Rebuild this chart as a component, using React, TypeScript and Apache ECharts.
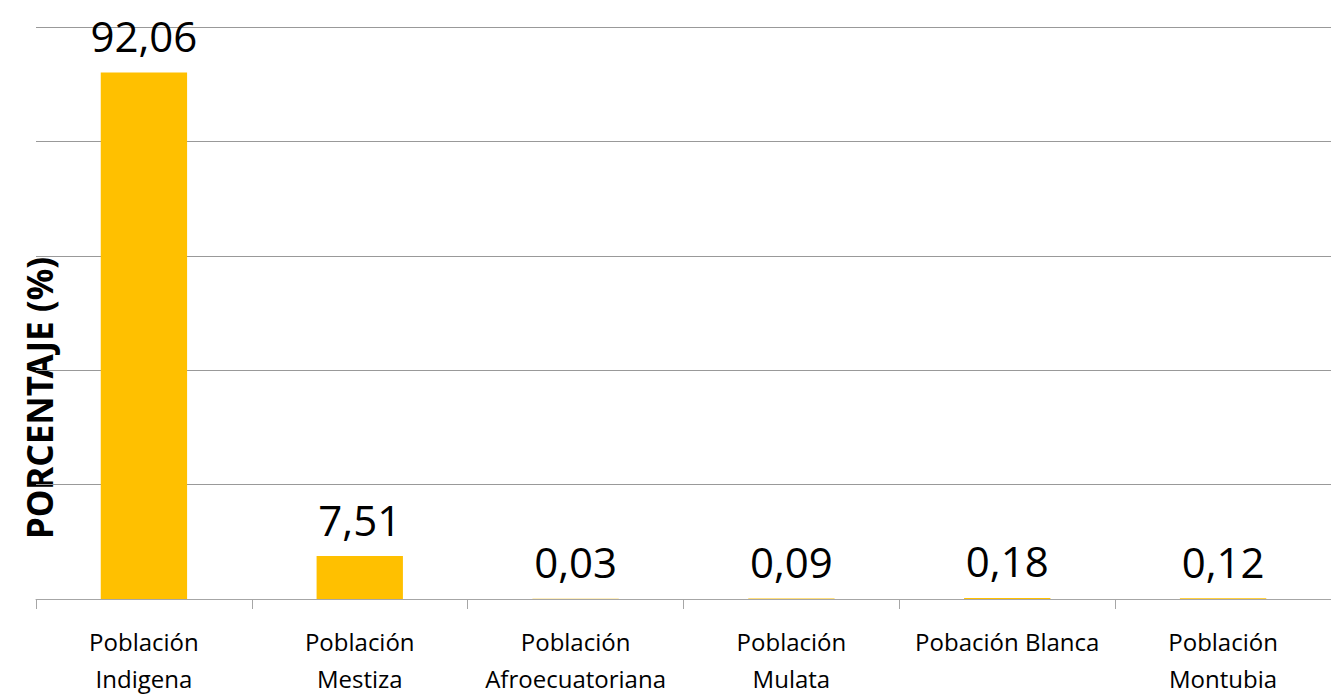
import React, { useEffect, useRef } from "react";
import * as echarts from "echarts";

const categories = [
  "Población\nIndigena",
  "Población\nMestiza",
  "Población\nAfroecuatoriana",
  "Población\nMulata",
  "Pobación Blanca",
  "Población\nMontubia",
];
const values = [92.06, 7.51, 0.03, 0.09, 0.18, 0.12];
const yAxisTitle = "PORCENTAJE (%)";

export default function App() {
  const ref = useRef<HTMLDivElement>(null);
  useEffect(() => {
    const chart = echarts.init(ref.current!, null, { renderer: "svg" });
    chart.setOption({
      animation: false,
      backgroundColor: "#ffffff",
      grid: { left: 36, right: 0, top: 27, height: 577, containLabel: false },
      xAxis: {
        type: "category",
        data: categories,
        axisLine: { show: true, lineStyle: { color: "#a6a6a6", width: 1 } },
        axisTick: { show: true, length: 10, lineStyle: { color: "#a6a6a6" } },
        axisLabel: {
          color: "#000",
          fontFamily: "Open Sans",
          fontSize: 24,
          lineHeight: 37,
          margin: 24,
          interval: 0,
        },
      },
      yAxis: {
        type: "value",
        min: 0,
        max: 100,
        interval: 20,
        axisLine: { show: false },
        axisTick: { show: false },
        axisLabel: { show: false },
        splitLine: { show: true, lineStyle: { color: "#999999", width: 1 } },
      },
      graphic: [
        {
          type: "text",
          x: 39,
          y: 398,
          rotation: Math.PI / 2,
          style: {
            text: yAxisTitle,
            fontFamily: "Noto Sans",
            fontWeight: "bold",
            fontSize: 35,
            fill: "#000",
            textAlign: "center",
            textVerticalAlign: "middle",
          },
        },
      ],
      series: [
        {
          type: "bar",
          data: values,
          barWidth: "40%",
          itemStyle: { color: "#FFC000" },
          label: {
            show: true,
            position: "top",
            distance: 16,
            color: "#000",
            fontFamily: "Open Sans",
            fontSize: 42,
            formatter: (p: any) => String(p.value.toFixed(2)).replace(".", ","),
          },
        },
      ],
    });
    return () => chart.dispose();
  }, []);
  return (
    <div
      ref={ref}
      style={{ position: "absolute", left: 0, top: 0, width: 1331, height: 697 }}
    />
  );
}
